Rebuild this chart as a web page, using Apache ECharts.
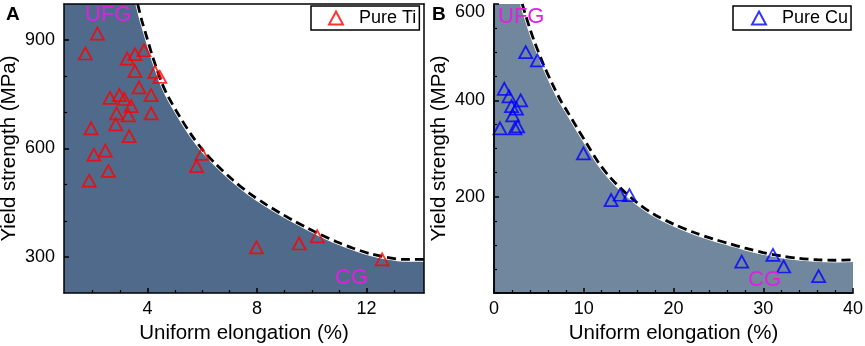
<!DOCTYPE html>
<html>
<head>
<meta charset="utf-8">
<script src="https://cdn.jsdelivr.net/npm/echarts@6/dist/echarts.min.js"></script>
<style>
  html, body { margin: 0; padding: 0; background: #fff; }
  #chart { width: 865px; height: 346px; }
</style>
</head>
<body>
<div id="chart"></div>
<script>
// Pure Ti (panel A)
var tiElongation = [2.17, 1.73, 3.26, 3.54, 3.87, 3.54, 4.27, 4.45, 3.69, 2.63, 2.97, 3.15, 4.13, 3.4, 2.87,
    3.3, 4.13, 2.84, 1.94, 3.33, 2.46, 2.04, 5.99, 5.79, 2.57, 1.87, 7.98, 9.54, 10.2, 12.57];
var tiStrength = [918, 863, 849, 861, 872, 814, 812, 798, 769, 740, 748, 737, 748, 717, 697,
    692, 697, 667, 656, 634, 594, 583, 585, 551, 538, 511, 326, 337, 357, 293];
// boundary (dashed) curve, panel A
var tiBoundary = [[3.64, 1000], [3.79, 955], [3.97, 909], [4.15, 863], [4.33, 822], [4.52, 782], [4.76, 743],
    [5.18, 688], [5.61, 637], [6.03, 595], [6.52, 555], [7.13, 512], [7.74, 475], [8.35, 444], [8.83, 422],
    [9.32, 401], [9.81, 381], [10.29, 363], [10.9, 342], [11.51, 324], [12.12, 309], [12.73, 299],
    [13.33, 293], [14.1, 293]];

// Pure Cu (panel B)
var cuElongation = [3.53, 4.83, 1.15, 1.67, 2.97, 1.95, 2.5, 2.08, 0.67, 2.34, 2.64, 9.96, 13.05, 14.05, 15.09,
    27.6, 31.08, 32.27, 36.17];
var cuStrength = [500, 483, 424, 408, 400, 388, 383, 369, 342, 342, 346, 290, 193, 204, 203, 65, 79, 55, 35];
var cuBoundary = [[3.15, 600], [3.5, 578], [4.0, 549], [4.5, 522], [5.5, 475], [6.5, 434], [7.5, 397],
    [8.1, 379], [9.22, 344], [10.34, 310], [11.63, 271], [12.94, 240], [14.42, 212], [15.91, 188],
    [17.77, 164], [20.0, 143], [22.23, 126], [24.46, 112], [26.3, 102], [28, 93], [30, 84], [32, 77],
    [34, 72], [36, 69], [38, 68], [40, 69]];

// ticks
var tiXLabels = [4, 8, 12];
var tiXMinor = [2, 3, 5, 6, 7, 9, 10, 11, 13];
var tiYLabels = [300, 600, 900];
var tiYMinor = [400, 500, 700, 800];
var cuYLabels = [200, 400, 600];

var FONT = 'Liberation Sans, Arial, sans-serif';
var fillA = '#4f6a8a', fillB = '#71879d';

function zip(xs, ys) {
    return xs.map(function (x, i) { return [x, ys[i]]; });
}

var lineOnly = { show: true, lineStyle: { color: '#000', width: 1.5 } };
var nameStyle = { fontSize: 20.5, color: '#000', fontFamily: FONT };

function frameAxis(grid, pos, min, max) {
    return {
        type: 'value', gridIndex: grid, position: pos, min: min, max: max, z: 10,
        axisLine: lineOnly, axisTick: { show: false }, axisLabel: { show: false }, splitLine: { show: false }
    };
}

var chart = echarts.init(document.getElementById('chart'));

var option = {
    animation: false,
    textStyle: { fontFamily: FONT },
    grid: [
        { left: 64, top: 4, width: 360, height: 289, containLabel: false, outerBoundsMode: 'none' },
        { left: 494, top: 4, width: 359, height: 289, containLabel: false, outerBoundsMode: 'none' }
    ],
    xAxis: [
        {
            type: 'value', gridIndex: 0, position: 'bottom', min: 0.95, max: 14.1, z: 10,
            name: 'Uniform elongation (%)', nameLocation: 'middle', nameGap: 28, nameTextStyle: nameStyle,
            axisLine: lineOnly,
            axisTick: { inside: true, length: 5, customValues: tiXLabels, lineStyle: { color: '#000', width: 1.5 } },
            axisLabel: { customValues: tiXLabels, fontSize: 18, color: '#000', margin: 7, fontFamily: FONT },
            splitLine: { show: false }
        },
        {
            type: 'value', gridIndex: 0, position: 'bottom', min: 0.95, max: 14.1, z: 10,
            axisLine: { show: false },
            axisTick: { inside: true, length: 3, customValues: tiXMinor, lineStyle: { color: '#000', width: 1.2 } },
            axisLabel: { show: false }, splitLine: { show: false }
        },
        frameAxis(0, 'top', 0.95, 14.1),
        {
            type: 'value', gridIndex: 1, position: 'bottom', min: 0, max: 40, interval: 10, z: 10,
            name: 'Uniform elongation (%)', nameLocation: 'middle', nameGap: 28, nameTextStyle: nameStyle,
            axisLine: lineOnly,
            axisTick: { inside: true, length: 5, lineStyle: { color: '#000', width: 1.5 } },
            minorTick: { show: true, splitNumber: 5, length: 3, lineStyle: { color: '#000', width: 1.2 } },
            axisLabel: { fontSize: 18, color: '#000', margin: 7, fontFamily: FONT },
            splitLine: { show: false }
        },
        frameAxis(1, 'top', 0, 40)
    ],
    yAxis: [
        {
            type: 'value', gridIndex: 0, position: 'left', min: 200, max: 1000, z: 10,
            name: 'Yield strength (MPa)', nameLocation: 'middle', nameGap: 44, nameTextStyle: nameStyle,
            axisLine: lineOnly,
            axisTick: { inside: true, length: 5, customValues: tiYLabels, lineStyle: { color: '#000', width: 1.5 } },
            axisLabel: { customValues: tiYLabels, fontSize: 18, color: '#000', margin: 9, fontFamily: FONT },
            splitLine: { show: false }
        },
        {
            type: 'value', gridIndex: 0, position: 'left', min: 200, max: 1000, z: 10,
            axisLine: { show: false },
            axisTick: { inside: true, length: 3, customValues: tiYMinor, lineStyle: { color: '#000', width: 1.2 } },
            axisLabel: { show: false }, splitLine: { show: false }
        },
        frameAxis(0, 'right', 200, 1000),
        {
            type: 'value', gridIndex: 1, position: 'left', min: 0, max: 600, interval: 200, z: 10,
            name: 'Yield strength (MPa)', nameLocation: 'middle', nameGap: 44, nameTextStyle: nameStyle,
            axisLine: lineOnly,
            axisTick: { inside: true, length: 5, lineStyle: { color: '#000', width: 1.5 } },
            minorTick: { show: true, splitNumber: 4, length: 3, lineStyle: { color: '#000', width: 1.2 } },
            axisLabel: {
                customValues: cuYLabels, fontSize: 18, color: '#000', margin: 9, fontFamily: FONT,
                formatter: function (v) { return v === 600 ? '{t|600}' : String(v); },
                rich: { t: { fontSize: 18, color: '#000', fontFamily: FONT, padding: [16, 0, 0, 0] } }
            },
            splitLine: { show: false }
        },
        frameAxis(1, 'right', 0, 600)
    ],
    legend: [
        {
            data: ['Pure Ti'], left: 311, top: 6,
            borderColor: '#000', borderWidth: 1.5, backgroundColor: '#fff', borderRadius: 0,
            padding: [3, 3, 3, 17], itemWidth: 14, itemHeight: 13,
            textStyle: { fontSize: 18, color: '#000', fontFamily: FONT, padding: [0, 0, 0, 11] }
        },
        {
            data: ['Pure Cu'], left: 733, top: 6,
            borderColor: '#000', borderWidth: 1.5, backgroundColor: '#fff', borderRadius: 0,
            padding: [3, 3, 3, 18], itemWidth: 14, itemHeight: 13,
            textStyle: { fontSize: 18, color: '#000', fontFamily: FONT, padding: [0, 0, 0, 11] }
        }
    ],
    graphic: [
        { type: 'text', left: 6, top: 5, z: 100, style: { text: 'A', font: 'bold 19px ' + FONT, fill: '#000' } },
        { type: 'text', left: 432, top: 5, z: 100, style: { text: 'B', font: 'bold 19px ' + FONT, fill: '#000' } },
        { type: 'text', left: 85, top: 4, z: 100, style: { text: 'UFG', font: '22px ' + FONT, fill: '#e020e0' } },
        { type: 'text', left: 335, top: 267, z: 100, style: { text: 'CG', font: '22px ' + FONT, fill: '#e020e0' } },
        { type: 'text', left: 498, top: 6, z: 100, style: { text: 'UFG', font: '22px ' + FONT, fill: '#e020e0' } },
        { type: 'text', left: 748, top: 269, z: 100, style: { text: 'CG', font: '22px ' + FONT, fill: '#e020e0' } }
    ],
    series: [
        // shaded region A
        {
            type: 'line', xAxisIndex: 0, yAxisIndex: 0, z: 1, symbol: 'none', smooth: 0.3, silent: true,
            data: [[0.95, 1000]].concat(tiBoundary),
            lineStyle: { width: 0 }, areaStyle: { color: fillA, opacity: 1, origin: 'start' }
        },
        {
            type: 'line', xAxisIndex: 0, yAxisIndex: 0, z: 2, symbol: 'none', smooth: 0.3, silent: true,
            data: tiBoundary, lineStyle: { color: '#fff', width: 4.5 }
        },
        {
            type: 'line', xAxisIndex: 0, yAxisIndex: 0, z: 3, symbol: 'none', smooth: 0.3, silent: true,
            data: tiBoundary, lineStyle: { color: '#000', width: 2.8, type: [9, 5] }
        },
        {
            name: 'Pure Ti', type: 'scatter', xAxisIndex: 0, yAxisIndex: 0, z: 5,
            symbol: 'triangle', symbolSize: [13, 12],
            itemStyle: { color: 'rgba(0,0,0,0)', borderColor: '#ff0000', borderWidth: 1.8 },
            data: zip(tiElongation, tiStrength)
        },
        // shaded region B
        {
            type: 'line', xAxisIndex: 3, yAxisIndex: 3, z: 1, symbol: 'none', smooth: 0.3, silent: true,
            data: [[0, 600]].concat(cuBoundary),
            lineStyle: { width: 0 }, areaStyle: { color: fillB, opacity: 1, origin: 'start' }
        },
        {
            type: 'line', xAxisIndex: 3, yAxisIndex: 3, z: 2, symbol: 'none', smooth: 0.3, silent: true,
            data: cuBoundary, lineStyle: { color: '#fff', width: 4.5 }
        },
        {
            type: 'line', xAxisIndex: 3, yAxisIndex: 3, z: 3, symbol: 'none', smooth: 0.3, silent: true,
            data: cuBoundary, lineStyle: { color: '#000', width: 2.8, type: [9, 5] }
        },
        {
            name: 'Pure Cu', type: 'scatter', xAxisIndex: 3, yAxisIndex: 3, z: 5,
            symbol: 'triangle', symbolSize: [13, 12],
            itemStyle: { color: 'rgba(0,0,0,0)', borderColor: '#0000ff', borderWidth: 1.8 },
            data: zip(cuElongation, cuStrength)
        }
    ]
};

chart.setOption(option);
</script>
</body>
</html>
